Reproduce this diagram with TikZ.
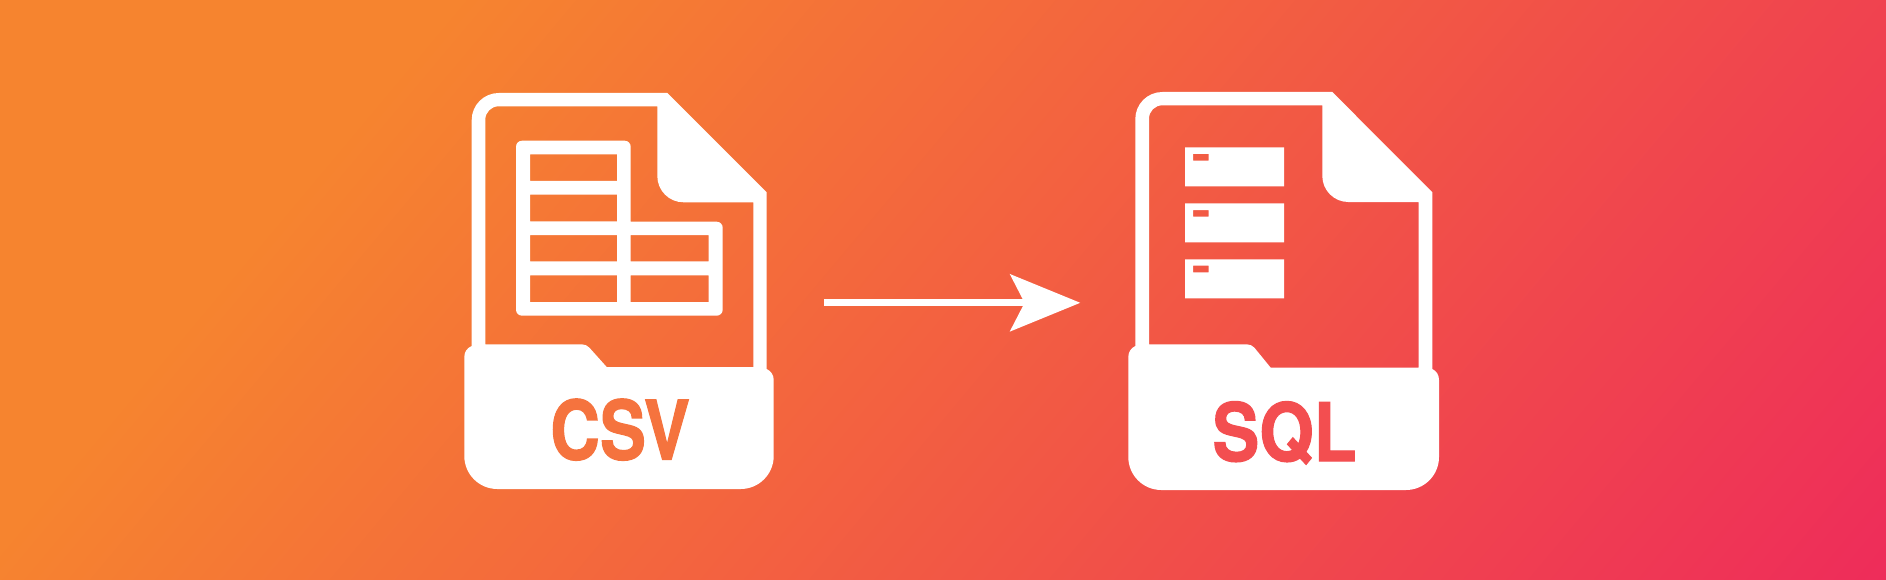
\documentclass[tikz,border=0pt]{standalone}
\usepackage{graphicx}
\usepackage{fontspec}
\usetikzlibrary{arrows.meta}
\newfontfamily\labelfont[BoldFeatures={FakeBold=1.5}]{TeX Gyre Heros}
\definecolor{bgA}{HTML}{F6842F}
\definecolor{bgB}{HTML}{EE2C5A}
\definecolor{csvtext}{HTML}{F5733E}
\definecolor{sqltext}{HTML}{F34E50}
\tikzset{
  iconfill/.style={fill=white,draw=none,even odd rule},
  iconlabel/.style={anchor=base,inner sep=0pt,outer sep=0pt},
  flowarrow/.style={draw=white,line width=7pt,-{Stealth[length=70pt,width=56.7pt,inset=14.3pt]}}
}
\begin{document}
\begin{tikzpicture}[x=1pt,y=-1pt]
\useasboundingbox (0,0) rectangle (1886,580);
% background gradient
\begin{scope}
  \clip (0,0) rectangle (1886,580);
  \fill[bgA] (0,0) rectangle (1886,580);
  \shade[transform canvas={rotate around={-40:(943,290)}},left color=bgA,right color=bgB]
    (383,-700) rectangle (1852,1280);
\end{scope}

% CSV icon
\fill[iconfill]
  (464.3,357) .. controls (464.3,352) and (467,348) .. (471.7,346)
  -- (471.7,120) .. controls (471.7,105.1) and (483.8,93) .. (498.7,93)
  -- (667.3,93) -- (766.7,192.3) -- (766.7,369)
  .. controls (771,371) and (773.7,375) .. (773.7,380)
  -- (773.7,456) .. controls (773.7,474.2) and (758.9,489) .. (740.7,489)
  -- (497.3,489) .. controls (479.1,489) and (464.3,474.2) .. (464.3,456) -- cycle
  (498.6,106.3) -- (657.3,106.3) -- (657.3,176)
  .. controls (657.3,190.5) and (669,202.3) .. (683.5,202.3)
  -- (753.3,202.3) -- (753.3,367) -- (606.7,367) -- (589.3,347.6)
  .. controls (587.4,345.5) and (584.6,344.3) .. (581.7,344.3)
  -- (485.3,344.3) -- (485.3,119.6)
  .. controls (485.3,112.3) and (491.3,106.3) .. (498.6,106.3) -- cycle;
% CSV table
\fill[iconfill]
  (522,140.7) -- (624.7,140.7) .. controls (628,140.7) and (630.7,143.4) .. (630.7,146.7)
  -- (630.7,221.7) -- (716.7,221.7) .. controls (720,221.7) and (722.7,224.4) .. (722.7,227.7)
  -- (722.7,309.7) .. controls (722.7,313) and (720,315.7) .. (716.7,315.7)
  -- (522,315.7) .. controls (518.7,315.7) and (516,313) .. (516,309.7)
  -- (516,146.7) .. controls (516,143.4) and (518.7,140.7) .. (522,140.7) -- cycle
  (530,154.3) rectangle (617,181)
  (530,194.7) rectangle (617,221.3)
  (530,235) rectangle (617,261.3)
  (530,275.3) rectangle (617,302)
  (630.7,235) rectangle (708.7,261.3)
  (630.7,275.3) rectangle (708.7,302);
\node[iconlabel,text=csvtext] (csvlabel) at (620,459.5)
  {\scalebox{0.84}[1]{\labelfont\bfseries\fontsize{82}{82}\selectfont CSV}};

% SQL icon
\fill[iconfill]
  (1128.3,357) .. controls (1128.3,352) and (1131,348) .. (1135.3,346)
  -- (1135.3,119) .. controls (1135.3,104.1) and (1147.4,92) .. (1162.3,92)
  -- (1332.3,92) -- (1432.3,192.3) -- (1432.3,369)
  .. controls (1436.5,371) and (1439,375) .. (1439,380)
  -- (1439,457) .. controls (1439,475.2) and (1424.2,490) .. (1406,490)
  -- (1161.3,490) .. controls (1143.1,490) and (1128.3,475.2) .. (1128.3,457) -- cycle
  (1162.3,105.3) -- (1322.3,105.3) -- (1322.3,176)
  .. controls (1322.3,190.2) and (1334,202) .. (1348.2,202)
  -- (1418.7,202) -- (1418.7,367.7) -- (1270.7,367.7) -- (1254.3,347.6)
  .. controls (1252.4,345.5) and (1249.6,344.3) .. (1246.7,344.3)
  -- (1149,344.3) -- (1149,118.6)
  .. controls (1149,111.3) and (1155,105.3) .. (1162.3,105.3) -- cycle;
% SQL server bars
\fill[iconfill]
  (1185,147.3) rectangle (1284,186.3)
  (1193,154) rectangle (1208.7,160.7)
  (1185,203.3) rectangle (1284,242.3)
  (1193,210) rectangle (1208.7,216.7)
  (1185,259.3) rectangle (1284,298.3)
  (1193,265.7) rectangle (1208.7,272.3);
\node[iconlabel,text=sqltext] (sqllabel) at (1284.5,461)
  {\scalebox{0.87}[1]{\labelfont\bfseries\fontsize{80.5}{80.5}\selectfont SQL}};

% arrow
\coordinate (arrowstart) at (824.3,302.8);
\coordinate (arrowend) at (1080.3,302.8);
\draw[flowarrow] (arrowstart) -- (arrowend);
\end{tikzpicture}
\end{document}
